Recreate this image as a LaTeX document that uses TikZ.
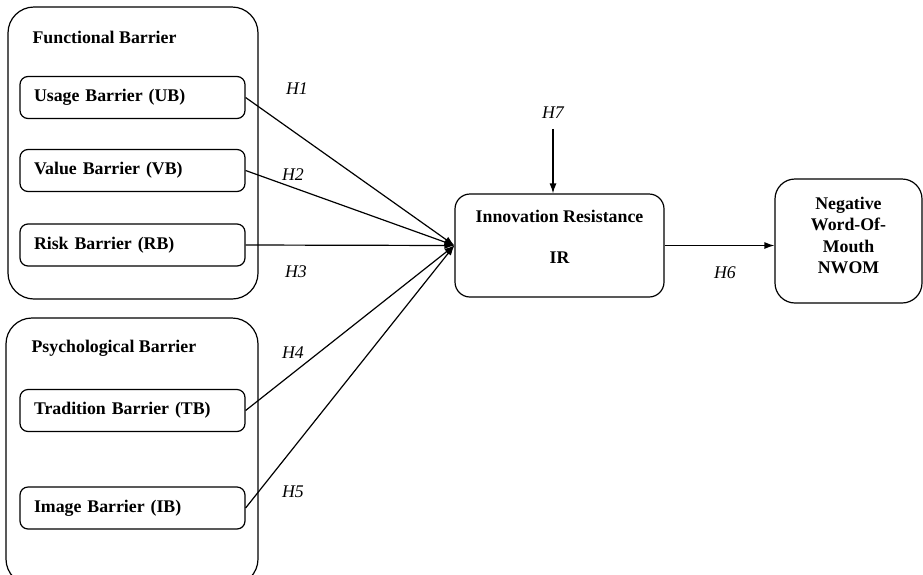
\documentclass[tikz,border=0pt]{standalone}
\usepackage{fontspec}
\setmainfont{Liberation Serif}
\usepackage{tikz}
\usetikzlibrary{arrows.meta}

\begin{document}
\begin{tikzpicture}[x=1pt,y=-1pt,line width=1.2pt,
    font=\fontsize{17.8}{21.5}\selectfont,
    group/.style={draw,rounded corners=26pt,minimum width=250pt},
    barrier/.style={draw,rounded corners=8pt,minimum width=225pt,minimum height=42pt,
      inner xsep=14pt,text width=197pt,align=left,font=\fontsize{17.8}{21.5}\selectfont\bfseries},
    title/.style={inner sep=0pt,align=center,font=\fontsize{17.8}{21.5}\selectfont\bfseries},
    hyp/.style={font=\fontsize{17.8}{21.5}\selectfont\itshape},
    arr/.style={-{Latex[length=10pt,width=7pt]}}]
      \clip (0,0) rectangle (923,574);

      % groups
      \node[group,minimum height=292pt] (func) at (133,153) {};
      \node[group,minimum width=252pt,minimum height=267pt] (psych) at (132,451.5) {};
      \node[title,anchor=west] (functitle) at (32,37) {Functional Barrier};
      \node[title,anchor=west] (psychtitle) at (31,348) {Psychological Barrier};

      \node[barrier] (UB) at (132.5,97.5) {Usage Barrier (UB)};
      \node[barrier] (VB) at (132.5,170.5) {Value Barrier (VB)};
      \node[barrier] (RB) at (132.5,245) {Risk Barrier (RB)};
      \node[barrier] (TB) at (132.5,410.5) {Tradition Barrier (TB)};
      \node[barrier] (IB) at (132.5,508) {Image Barrier (IB)};

      \node[draw,rounded corners=15pt,minimum width=209pt,minimum height=103pt] (IR) at (559.5,245.5) {};
      \node[title] (IRtext) at (559.5,237) {Innovation Resistance\\[19.5pt]IR};
      \node[draw,rounded corners=20pt,minimum width=147pt,minimum height=124pt] (NWOM) at (848.5,241) {};
      \node[title] (NWOMtext) at (848.5,235.5) {Negative\\Word-Of-\\Mouth\\NWOM};

      % paths
      \draw[arr] (UB.east) -- (IR.west);
      \draw[arr] (VB.east) -- (IR.west);
      \draw[arr] (RB.east) -- (IR.west);
      \draw[arr] (TB.east) -- (IR.west);
      \draw[arr] (IB.east) -- (IR.west);
      \draw[arr] (IR.east) -- (IR.east -| NWOM.west);

      \node[hyp] (H7) at (553,113) {H7};
      \draw[arr,shorten <=6pt] (H7.south) -- (H7.south |- IR.north);

      \node[hyp] (H1) at (297,89) {H1};
      \node[hyp] (H2) at (293,175) {H2};
      \node[hyp] (H3) at (296,272) {H3};
      \node[hyp] (H4) at (293,353) {H4};
      \node[hyp] (H5) at (293,492) {H5};
      \node[hyp] (H6) at (725,273) {H6};
\end{tikzpicture}
\end{document}
